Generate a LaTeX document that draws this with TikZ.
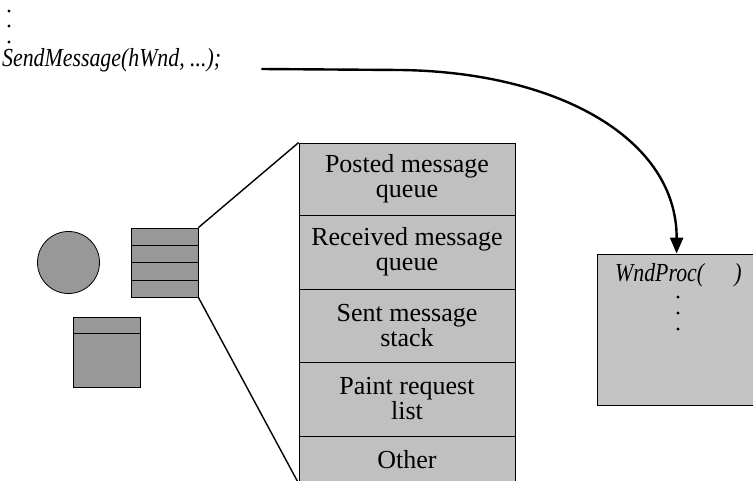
\documentclass[tikz,border=0pt]{standalone}
\usepackage{fontspec}
\setmainfont{Liberation Serif}
\usetikzlibrary{arrows.meta,calc}
\definecolor{listfill}{RGB}{192,192,192}
\definecolor{darkfill}{RGB}{152,152,152}
\definecolor{wndfill}{RGB}{196,196,196}
\newcommand{\narrowit}[1]{\scalebox{0.84}[1]{\itshape #1}}
\tikzset{
  txt/.style={font=\fontsize{26}{25}\selectfont, inner sep=0pt},
  listrow/.style={draw, line width=0.8pt, fill=listfill, minimum width=216pt,
    align=center, inner sep=0pt, font=\fontsize{26}{25}\selectfont},
  darkshape/.style={draw, line width=0.8pt, fill=darkfill, inner sep=0pt},
  fanline/.style={line width=1.4pt},
  callarrow/.style={line width=2.4pt, -{Triangle[length=16pt,width=13pt]}},
}
\begin{document}
\begin{tikzpicture}[x=1pt,y=-1pt]
\useasboundingbox (0,0) rectangle (753,481);
\clip (0,0) rectangle (753,481);

% leading dots
\fill (9,11) circle (1.6);
\fill (9,26) circle (1.6);
\fill (9,42) circle (1.6);

% SendMessage text
\node[txt, anchor=base west] (send) at (2,67) {\narrowit{SendMessage(hWnd, ...);}};

% thread objects
\node[darkshape, circle, minimum size=62pt] (circ) at (68.5,262.5) {};
\node[darkshape, rectangle, minimum width=67pt, minimum height=69pt] (stack) at (164.5,262.5) {};
\foreach \f in {0.25,0.5,0.75}
  \draw[line width=0.8pt] ($(stack.north west)!\f!(stack.south west)$) -- ($(stack.north east)!\f!(stack.south east)$);
\node[darkshape, rectangle, minimum width=67pt, minimum height=70pt] (lower) at (106.5,352) {};
\draw[line width=0.8pt] ($(lower.north west)!0.243!(lower.south west)$) -- ($(lower.north east)!0.243!(lower.south east)$);

% list of queues
\node[listrow, minimum height=72pt] (r1) at (407,179) {Posted message\\queue};
\node[listrow, minimum height=74pt] (r2) at (407,252) {Received message\\queue};
\node[listrow, minimum height=73pt] (r3) at (407,325.5) {Sent message\\stack};
\node[listrow, minimum height=74pt] (r4) at (407,399) {Paint request\\list};
\node[listrow, minimum height=47pt] (r5) at (407,459.5) {Other};

% fan lines
\draw[fanline] (stack.north east) -- (r1.north west);
\draw[fanline] (stack.south east) -- (r5.south west);

% window procedure box
\node[draw, line width=0.8pt, fill=wndfill, minimum width=180pt, minimum height=151pt,
      inner sep=0pt] (wnd) at (687,329.5) {};
\node[txt, anchor=base west] (wp) at (615,282) {\narrowit{WndProc(\hspace{36pt})}};
\fill (678,297) circle (1.6);
\fill (678,313) circle (1.6);
\fill (678,329) circle (1.6);

% call arrow
\coordinate (start) at ([xshift=40pt,yshift=-2pt]send.base east);
\draw[callarrow] (start) -- (400,70) .. controls (560,72) and (677,140) .. ([xshift=80pt]wnd.north west);
\end{tikzpicture}
\end{document}
